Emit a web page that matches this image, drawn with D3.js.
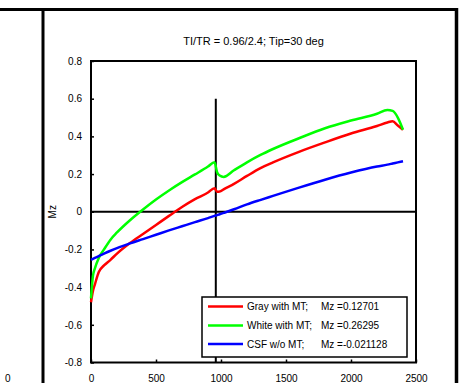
<!DOCTYPE html>
<html>
<head>
<meta charset="utf-8">
<script src="https://cdn.jsdelivr.net/npm/d3@7/dist/d3.min.js"></script>
<style>
  html, body { margin: 0; padding: 0; background: #fff; }
  svg { display: block; }
  text { font-family: "Liberation Sans", Arial, sans-serif; fill: #000; }
</style>
</head>
<body>
<svg id="chart" width="460" height="383"></svg>
<script>
// ---- data ----
const timeMs = [0, 15, 30, 60, 100, 150, 200, 300, 400, 500, 600, 700, 800, 900, 950, 970, 990, 1020, 1100, 1200, 1300, 1400, 1600, 1800, 2000, 2200, 2280, 2320, 2360, 2400];
const grayMT = [-0.48, -0.42, -0.385, -0.32, -0.285, -0.255, -0.222, -0.166, -0.118, -0.07, -0.022, 0.025, 0.067, 0.102, 0.125, 0.106, 0.107, 0.119, 0.148, 0.19, 0.23, 0.262, 0.318, 0.368, 0.415, 0.455, 0.474, 0.48, 0.458, 0.435];
const whiteMT = [-0.46, -0.34, -0.30, -0.245, -0.20, -0.148, -0.11, -0.045, 0.012, 0.065, 0.113, 0.157, 0.198, 0.24, 0.263, 0.21, 0.192, 0.185, 0.22, 0.262, 0.30, 0.333, 0.39, 0.443, 0.484, 0.52, 0.54, 0.535, 0.50, 0.435];
const csfNoMT = [-0.255, -0.25, -0.245, -0.235, -0.222, -0.207, -0.193, -0.168, -0.145, -0.122, -0.099, -0.077, -0.055, -0.034, -0.022, -0.018, -0.013, -0.006, 0.013, 0.039, 0.062, 0.084, 0.128, 0.17, 0.208, 0.24, 0.25, 0.256, 0.262, 0.268];
const seriesNames = ["Gray with MT;", "White with MT;", "CSF w/o MT;"];
const seriesMz = ["Mz =0.12701", "Mz =0.26295", "Mz =-0.021128"];
const seriesColors = ["#ff0000", "#00ff00", "#0000ff"];
const xTicks = [0, 500, 1000, 1500, 2000, 2500];
const yTicks = [-0.8, -0.6, -0.4, -0.2, 0, 0.2, 0.4, 0.6, 0.8];
const titleText = "TI/TR = 0.96/2.4; Tip=30 deg";
const yLabel = "Mz";
const inversionTime = 960;
const neighborLabel = "0";

// ---- drawing ----
const svg = d3.select("#chart");
const x = d3.scaleLinear().domain([0, 2500]).range([91, 416]);
const y = d3.scaleLinear().domain([-0.8, 0.8]).range([362.5, 61]);

// outer panel frame
svg.append("line").attr("x1", 0).attr("x2", 458).attr("y1", 9.5).attr("y2", 9.5)
  .attr("stroke", "#000").attr("stroke-width", 3);
svg.append("line").attr("x1", 43).attr("x2", 43).attr("y1", 8).attr("y2", 383)
  .attr("stroke", "#000").attr("stroke-width", 3);
svg.append("line").attr("x1", 456.5).attr("x2", 456.5).attr("y1", 8).attr("y2", 383)
  .attr("stroke", "#000").attr("stroke-width", 3.5);
svg.append("text").attr("x", 5).attr("y", 382).attr("font-size", 10).text(neighborLabel);

// title
svg.append("text").attr("x", (x.range()[0] + x.range()[1]) / 2).attr("y", 45)
  .attr("text-anchor", "middle").attr("font-size", 11).text(titleText);

// y label
svg.append("text").attr("transform", `translate(56,${y(0)}) rotate(-90)`)
  .attr("text-anchor", "middle").attr("font-size", 10).text(yLabel);

// plot box
svg.append("rect").attr("x", x(0)).attr("y", y(0.8))
  .attr("width", x(2500) - x(0)).attr("height", y(-0.8) - y(0.8))
  .attr("fill", "none").attr("stroke", "#000").attr("stroke-width", 2);

// axes
const yAxis = d3.axisLeft(y).tickValues(yTicks).tickSize(-3).tickPadding(9)
  .tickFormat(d => d === 0 ? "0" : d.toFixed(1));
const gy = svg.append("g").attr("transform", `translate(${x(0)},0)`).call(yAxis);
const xAxis = d3.axisBottom(x).tickValues(xTicks).tickSize(-3).tickPadding(12)
  .tickFormat(d => String(d));
const gx = svg.append("g").attr("transform", `translate(0,${y(-0.8)})`).call(xAxis);
[gx, gy].forEach(g => {
  g.select(".domain").remove();
  g.selectAll(".tick line").attr("stroke", "#000").attr("stroke-width", 1.5);
  g.selectAll(".tick text").attr("font-size", 10)
    .attr("font-family", "Liberation Sans, Arial, sans-serif").attr("fill", "#000");
});

// zero line and inversion marker
svg.append("line").attr("x1", x(0)).attr("x2", x(2500)).attr("y1", y(0)).attr("y2", y(0))
  .attr("stroke", "#000").attr("stroke-width", 2);
svg.append("line").attr("x1", x(inversionTime)).attr("x2", x(inversionTime))
  .attr("y1", y(0.6)).attr("y2", y(-0.8))
  .attr("stroke", "#000").attr("stroke-width", 2);

// curves
const line = d3.line().curve(d3.curveMonotoneX).x((d, i) => x(timeMs[i])).y(d => y(d));
[grayMT, whiteMT, csfNoMT].forEach((vals, k) => {
  svg.append("path").datum(vals).attr("d", line)
    .attr("fill", "none").attr("stroke", seriesColors[k])
    .attr("stroke-width", 2.5).attr("stroke-linejoin", "round");
});

// legend
const lg = svg.append("g");
lg.append("rect").attr("x", 202).attr("y", 297).attr("width", 205).attr("height", 60)
  .attr("fill", "#fff").attr("stroke", "#000").attr("stroke-width", 1.5);
const rowY = [306.5, 325.5, 344];
seriesNames.forEach((name, k) => {
  lg.append("line").attr("x1", 208).attr("x2", 243).attr("y1", rowY[k]).attr("y2", rowY[k])
    .attr("stroke", seriesColors[k]).attr("stroke-width", 2.5);
  const t = lg.append("text").attr("y", rowY[k] + 3.6).attr("font-size", 10);
  t.append("tspan").attr("x", 247).text(name);
  t.append("tspan").attr("x", 321).text(" " + seriesMz[k]).attr("dx", -2.8);
});
</script>
</body>
</html>
